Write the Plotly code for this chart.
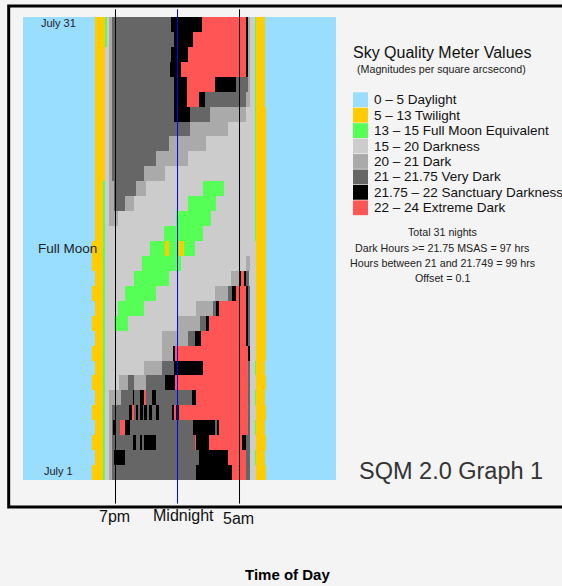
import plotly.graph_objects as go

# ---------------- data ----------------
categories = ["0 – 5 Daylight", "5 – 13 Twilight", "13 – 15 Full Moon Equivalent",
              "15 – 20 Darkness", "20 – 21 Dark", "21 – 21.75 Very Dark",
              "21.75 – 22 Sanctuary Darkness", "22 – 24 Extreme Dark"]
codes = ["D", "T", "M", "K", "A", "V", "S", "X"]
colors = ["#99ddff", "#ffcc00", "#55ff55", "#cccccc", "#aaaaaa", "#666666", "#000000", "#ff5555"]

start_hour = 11.54          # first reading (hours after midnight of the evening's date)
nights = list(range(31, 0, -1))   # July 31 (top) ... July 1 (bottom)

# each night: runs of "<level code><end hour>"
runs = [
    "D17.35 T18.13 M18.29 K18.51 A18.72 V23.49 S25.99 X29.49 S29.68 A29.87 K30.22 M30.36 T31.03 D36.78",
    "D17.35 T18.13 M18.29 K18.51 A18.72 V23.70 S25.21 X29.49 S29.68 A29.87 K30.22 M30.36 T31.03 D36.78",
    "D17.35 T18.13 K18.51 A18.72 V23.51 S24.83 X29.49 S29.68 A29.87 K30.22 M30.36 T31.03 D36.78",
    "D17.35 T18.13 K18.51 A18.72 V23.38 S24.30 X29.49 S29.68 A29.87 K30.22 M30.36 T31.03 D36.78",
    "D17.35 T18.13 K18.51 A18.72 V23.68 S24.75 X26.99 S28.74 V29.68 A29.87 K30.22 M30.36 T31.03 D36.78",
    "D17.35 T18.13 K18.51 A18.72 V23.68 S24.75 X25.70 S26.18 V29.49 A29.87 K30.22 M30.36 T31.03 D36.78",
    "D17.35 T18.13 K18.51 A18.72 V23.68 S25.03 V26.65 A29.49 K30.22 M30.36 T31.16 D36.78",
    "D17.35 T18.13 K18.51 A18.72 V25.03 A28.06 K30.22 M30.36 T31.16 D36.78",
    "D17.35 T18.13 K18.51 A18.72 V23.35 A26.32 K30.22 M30.36 T31.16 D36.78",
    "D17.35 T18.13 K18.51 A18.72 V22.28 A24.81 K30.22 M30.36 T31.16 D36.78",
    "D17.35 T18.13 K18.51 A18.72 V21.33 A23.03 K30.22 M30.36 T31.16 D36.78",
    "D17.35 T18.02 M18.15 K18.51 A18.91 V20.66 A21.47 K26.04 M27.74 K30.22 M30.36 T31.16 D36.78",
    "D17.35 T18.02 M18.15 K18.51 A18.91 V19.77 A20.53 K24.83 M27.13 K30.22 M30.36 T31.16 D36.78",
    "D17.35 T18.02 M18.15 K18.51 A19.23 K23.89 M26.66 K30.22 M30.36 T31.16 D36.78",
    "D17.35 T18.02 M18.15 K22.89 M26.04 K30.22 M30.36 T31.16 D36.78",
    "D17.14 T18.02 M18.15 K21.82 M23.03 T23.35 M24.10 T24.51 M25.37 K30.36 T31.16 D36.78",
    "D17.14 T18.02 M18.15 K21.15 M24.30 K29.49 A29.87 K30.36 T31.16 D36.78",
    "D17.35 T18.02 M18.15 K20.53 M23.35 K28.34 A28.93 S29.11 X29.33 S29.52 V29.73 K30.36 T31.16 D36.78",
    "D17.14 T18.02 M18.15 K19.77 M22.28 K26.99 A28.06 V28.36 S28.71 X29.49 S29.68 V29.87 K30.36 T31.16 D36.78",
    "D17.35 T18.02 M18.15 K19.18 M21.33 K25.53 A26.85 V27.13 S27.31 X29.49 S29.68 V29.87 K30.36 T31.16 D36.78",
    "D17.14 T18.02 M18.15 K18.85 M20.02 K24.02 A25.82 V26.32 S26.50 X29.49 S29.68 V29.87 K30.36 T31.16 D36.78",
    "D17.35 T18.02 M18.15 K22.73 A24.81 V25.37 S25.86 X29.49 S29.68 V29.87 K30.36 T31.16 D36.78",
    "D17.14 T18.02 M18.15 K22.73 A23.62 S23.81 X29.68 S29.87 K30.36 T31.16 D36.78",
    "D17.35 T18.02 M18.15 K21.33 A22.73 V23.70 S26.04 X29.68 V29.87 K30.22 M30.36 T31.03 D36.78",
    "D17.14 T18.02 M18.15 K19.31 A20.04 V20.53 A21.47 V23.03 S23.81 X29.68 V29.87 K30.36 T31.16 D36.78",
    "D17.35 T18.02 M18.15 K18.51 A19.45 V20.39 S20.53 V20.99 S21.33 X21.49 V21.98 S22.28 V25.19 S25.51 X29.68 V29.87 K30.22 M30.36 T31.03 D36.78",
    "D17.14 T18.02 M18.15 K18.51 A18.69 V20.06 S20.32 X20.49 V20.65 S20.85 V20.97 S21.21 V21.33 S21.53 V21.66 S21.94 V22.30 S22.54 V23.55 S23.72 X23.84 S24.08 X29.68 V29.87 K30.36 T31.16 D36.78",
    "D17.35 T18.02 M18.15 K18.51 A18.69 V18.83 S19.01 V19.37 X19.77 S20.18 V25.21 S26.99 V27.15 S27.35 X29.68 V29.87 K30.22 M30.36 T31.03 D36.78",
    "D17.14 T18.02 M18.15 K18.51 A18.69 V20.39 S20.66 V21.01 S21.17 V21.33 S22.28 V25.37 X25.51 S26.50 X29.19 S29.52 V29.87 K30.36 T31.16 D36.78",
    "D17.35 T18.02 M18.15 K18.51 A18.69 V18.91 S19.80 V25.70 S28.06 X29.49 V29.87 K30.22 M30.36 T31.03 D36.78",
    "D17.14 T18.02 M18.15 K18.51 A18.69 V25.51 S28.36 X29.49 V29.87 K30.36 T31.16 D36.78",
]

marker_hours = [19, 24, 29]
marker_labels = ["7pm", "Midnight", "5am"]
marker_colors = ["#000000", "#0000ff", "#000000"]
marker_label_shift = [(-1, 0), (6, 1), (-1, -2)]

row_labels = ["July 31", "Full Moon", "July 1"]
stats_lines = ["Total 31 nights", "Dark Hours >= 21.75 MSAS = 97 hrs",
               "Hours between 21 and 21.749 = 99 hrs", "Offset = 0.1"]

# ---------------- build grid ----------------
parsed = []
edge_set = {start_hour}
for s in runs:
    segs = [(codes.index(tok[0]), float(tok[1:])) for tok in s.split()]
    parsed.append(segs)
    edge_set.update(e for _, e in segs)
edges = sorted(edge_set)
mids = [(a + b) / 2 for a, b in zip(edges[:-1], edges[1:])]
z = []
for segs in parsed:
    row = []
    for m in mids:
        for c, e in segs:
            if m < e:
                row.append(c)
                break
    z.append(row)

n = len(colors)
cscale = []
for i, c in enumerate(colors):
    cscale.append([i / n, c])
    cscale.append([(i + 1) / n, c])

# ---------------- layout geometry (pixels) ----------------
W, H = 562, 586
L, T, R, B = 23, 17, 336, 480
PW, PH = R - L, B - T


def xp(px):
    return (px - L) / PW


def yp(py):
    return (B - py) / PH


FONT = "Liberation Sans, Arial, Helvetica, sans-serif"

fig = go.Figure(go.Heatmap(
    z=z, x=edges, y=nights, colorscale=cscale, zmin=-0.5, zmax=n - 0.5,
    showscale=False, hoverinfo="skip", zsmooth=False,
))

shapes = []
annotations = []

# frame
shapes.append(dict(type="rect", xref="paper", yref="paper",
                   x0=xp(8.7), x1=xp(620), y0=yp(507), y1=yp(6),
                   line=dict(color="black", width=3), fillcolor="rgba(0,0,0,0)", layer="above"))

# time marker lines and labels
for h, lab, col, (dx, dy) in zip(marker_hours, marker_labels, marker_colors, marker_label_shift):
    shapes.append(dict(type="line", xref="x", yref="paper", x0=h, x1=h,
                       y0=yp(503.6), y1=yp(9.3), line=dict(color=col, width=1), layer="above"))
    annotations.append(dict(text=lab, x=h, xref="x", y=yp(518), yref="paper",
                            xshift=dx, yshift=dy + 2, showarrow=False,
                            font=dict(family=FONT, size=16, color="#111111"),
                            xanchor="center", yanchor="middle"))

# row labels
row_label_pos = {"July 31": (58.3, 23.3, 11), "Full Moon": (67.5, 248.3, 13.5), "July 1": (58.8, 471, 11)}
for lab in row_labels:
    px_, py_, fs = row_label_pos[lab]
    annotations.append(dict(text=lab, x=xp(px_), y=yp(py_), xref="paper", yref="paper",
                            showarrow=False, font=dict(family=FONT, size=fs, color="#222222"),
                            xanchor="center", yanchor="middle"))

# legend
annotations.append(dict(text="Sky Quality Meter Values", x=xp(441.7), y=yp(52.7),
                        xref="paper", yref="paper", showarrow=False,
                        font=dict(family=FONT, size=16, color="#111111"),
                        xanchor="center", yanchor="middle"))
annotations.append(dict(text="(Magnitudes per square arcsecond)", x=xp(441.7), y=yp(69),
                        xref="paper", yref="paper", showarrow=False,
                        font=dict(family=FONT, size=10.7, color="#222222"),
                        xanchor="center", yanchor="middle"))
step = 15.44
for i, (lab, col) in enumerate(zip(categories, colors)):
    top = 92.3 + step * i
    shapes.append(dict(type="rect", xref="paper", yref="paper",
                       x0=xp(353), x1=xp(368), y0=yp(top + 14.8), y1=yp(top),
                       line=dict(width=0), fillcolor=col, layer="above"))
    annotations.append(dict(text=lab, x=xp(372), y=yp(top + 7.4), xref="paper", yref="paper",
                            showarrow=False, font=dict(family=FONT, size=13.5, color="#111111"),
                            xanchor="left", yanchor="middle"))

for i, line in enumerate(stats_lines):
    annotations.append(dict(text=line, x=xp(442), y=yp(232.3 + 15.33 * i), xref="paper", yref="paper",
                            showarrow=False, font=dict(family=FONT, size=10.7, color="#222222"),
                            xanchor="center", yanchor="middle"))

annotations.append(dict(text="SQM 2.0 Graph 1", x=xp(450.8), y=yp(470.7), xref="paper", yref="paper",
                        showarrow=False, font=dict(family=FONT, size=23.5, color="#333333"),
                        xanchor="center", yanchor="middle"))

annotations.append(dict(text="<b>Time of Day</b>", x=xp(287), y=yp(574), xref="paper", yref="paper",
                        showarrow=False, font=dict(family=FONT, size=15, color="#000000"),
                        xanchor="center", yanchor="middle"))

fig.update_layout(
    width=W, height=H,
    margin=dict(l=L, r=W - R, t=T, b=H - B, pad=0),
    paper_bgcolor="#f4f4f4", plot_bgcolor="#f4f4f4",
    xaxis=dict(range=[start_hour, edges[-1]], visible=False, fixedrange=True),
    yaxis=dict(range=[0.5, 31.5], visible=False, fixedrange=True),
    shapes=shapes, annotations=annotations,
    showlegend=False,
)

fig.write_html("out.html", config={"displayModeBar": False})
